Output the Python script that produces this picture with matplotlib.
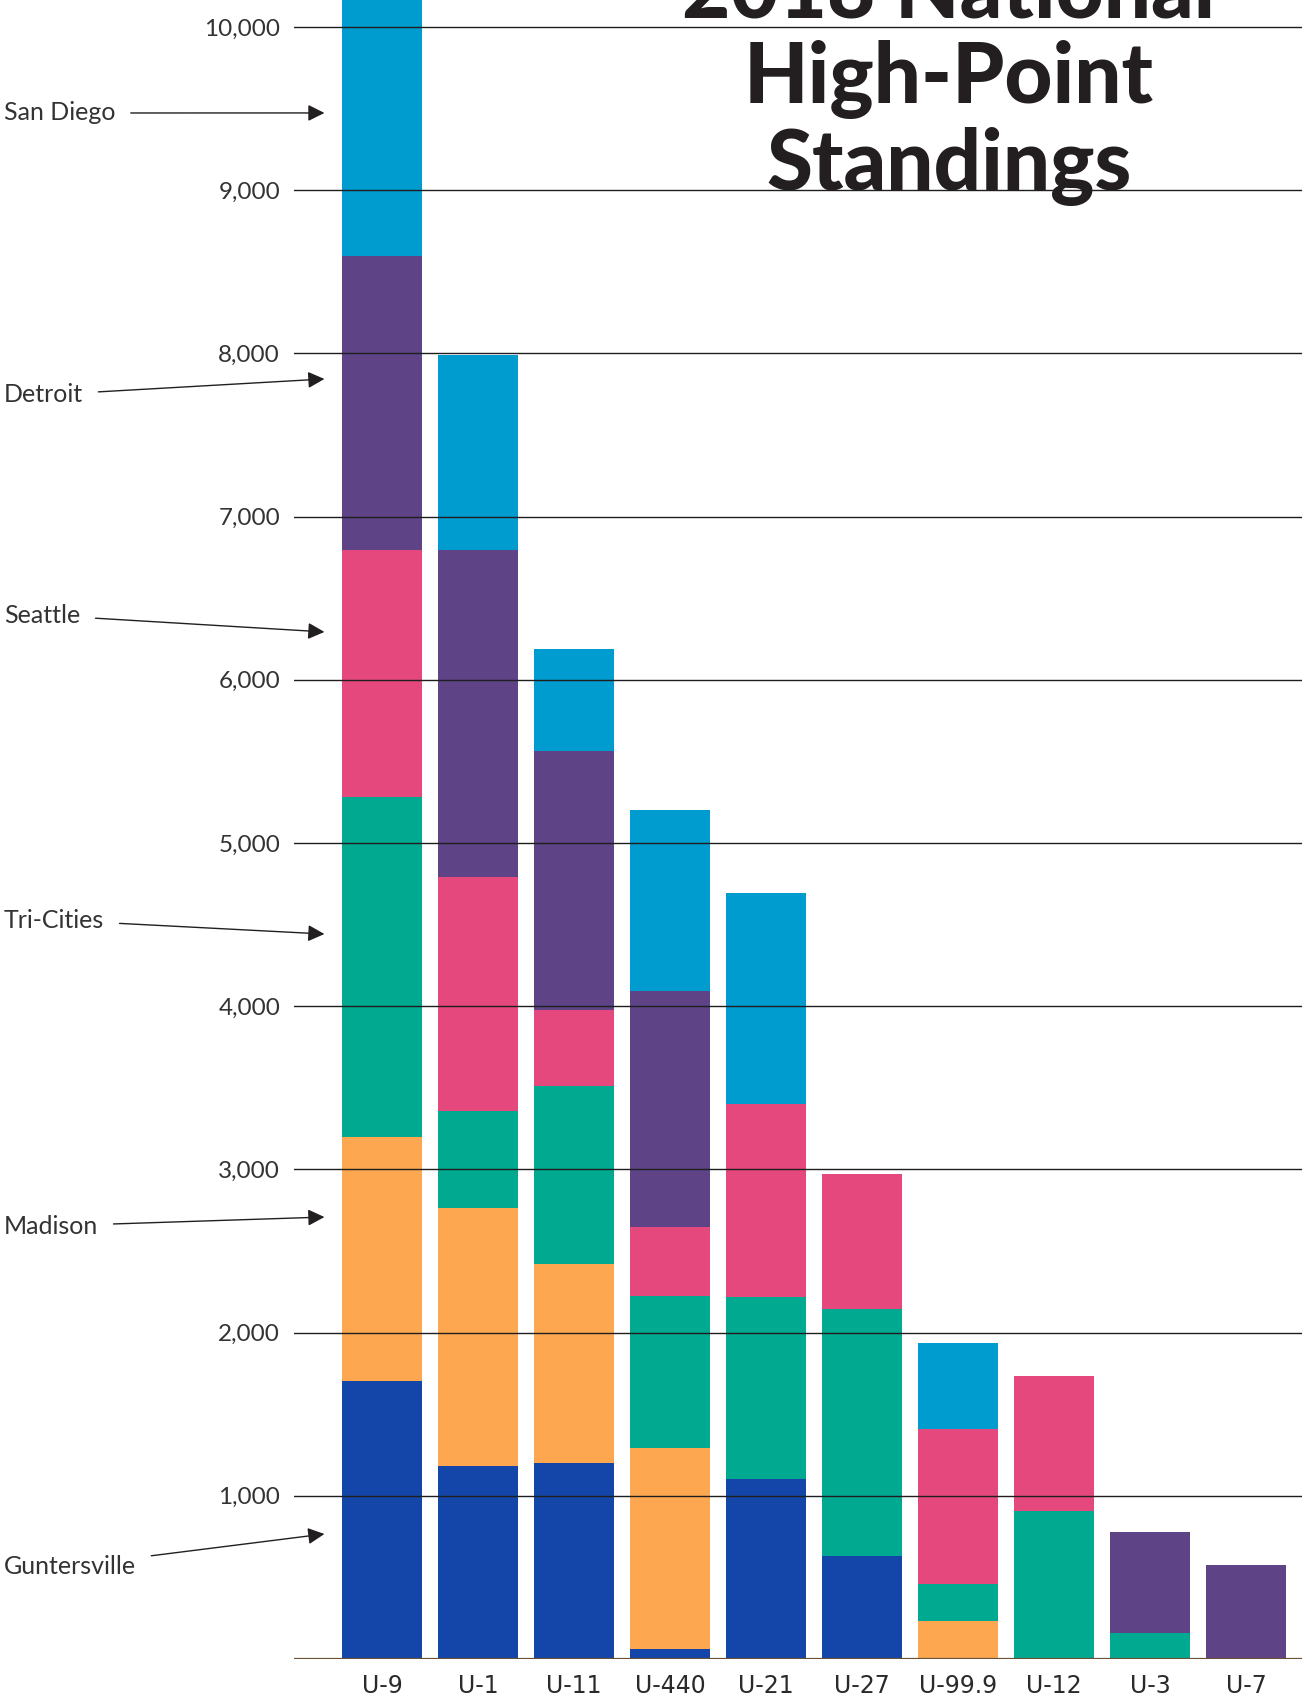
import numpy as np
import matplotlib
matplotlib.use("Agg")
import matplotlib.pyplot as plt

# boats in high-point order
boats = ["U-9", "U-1", "U-11", "U-440", "U-21", "U-27", "U-99.9", "U-12", "U-3", "U-7"]

# points per race (stacked bottom -> top)
races = ["Guntersville", "Madison", "Tri-Cities", "Seattle", "Detroit", "San Diego"]
guntersville = [1703, 1185, 1201, 63, 1101, 629, 0, 0, 0, 0]
madison      = [1497, 1576, 1221, 1230, 0, 0, 233, 0, 0, 0]
tri_cities   = [2083, 599, 1091, 931, 1117, 1514, 227, 907, 161, 0]
seattle      = [1510, 1430, 466, 424, 1182, 831, 949, 827, 0, 0]
detroit      = [1803, 2003, 1583, 1444, 0, 0, 0, 0, 619, 574]
san_diego    = [1700, 1198, 626, 1111, 1291, 0, 527, 0, 0, 0]

race_colors = ["#1446aa", "#fda750", "#00a990", "#e5487d", "#5e4487", "#009bcf"]

yticks = [1000, 2000, 3000, 4000, 5000, 6000, 7000, 8000, 9000, 10000]

# where each race label's arrow lands on the first bar
label_values = [766, 2708, 4442, 6293, 7843, 9473]
label_fig_y = [1566, 1226, 920, 615, 395, 113]   # text centre, pixels from top

W, H = 1302, 1702
fig = plt.figure(figsize=(W / 100, H / 100), dpi=100)
ax = fig.add_axes([294 / W, 1 - 1659 / H, 1 - 294 / W, 1659 / H])

x = np.arange(len(boats))
bottom = np.zeros(len(boats))
for vals, col in zip([guntersville, madison, tri_cities, seattle, detroit, san_diego], race_colors):
    vals = np.array(vals, dtype=float)
    ax.bar(x, vals, width=0.833, bottom=bottom, color=col, edgecolor="none", zorder=1)
    bottom += vals

ax.set_xlim(-0.917, 9.583)
ax.set_ylim(0, 10165)

for yv in yticks:
    ax.axhline(yv, color="#1e1e1e", lw=1.0, zorder=3)
ax.axhline(0, color="#6b5236", lw=1.6, zorder=3)

ax.set_yticks(yticks)
ax.set_yticklabels([f"{v:,}" for v in yticks], fontsize=17.5, color="#333333", family="Lato")
ax.set_xticks(x)
ax.set_xticklabels(boats, fontsize=17, color="#2a2a2a", family="Liberation Sans Narrow")
ax.tick_params(axis="y", length=0, pad=10)
ax.tick_params(axis="x", length=0, pad=11)
for s in ax.spines.values():
    s.set_visible(False)

# race labels with arrows on the left
for name, val, py in zip(races, label_values, label_fig_y):
    ax.annotate(name, xy=(-0.6, val), xycoords="data",
                xytext=(4 / W, 1 - py / H), textcoords="figure fraction",
                ha="left", va="center", fontsize=18, color="#333333", family="Lato",
                arrowprops=dict(arrowstyle="-|>", color="#231f20", lw=1.0,
                                mutation_scale=25, shrinkA=9, shrinkB=0),
                annotation_clip=False)

# title (top line runs off the page, as in the original)
title_lines = ["2018 National", "High-Point", "Standings"]
for line, py in zip(title_lines, [17, 103, 190]):
    fig.text(949 / W, 1 - py / H, line, ha="center", va="baseline",
             fontsize=60, fontweight="black", family="Lato", color="#231f20", zorder=5)

fig.savefig("out.png", dpi=100, facecolor="white")
